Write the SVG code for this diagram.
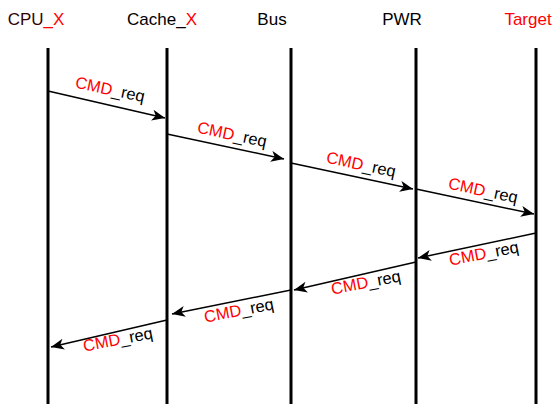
<svg xmlns="http://www.w3.org/2000/svg" width="557" height="416" viewBox="0 0 557 416">
<style>
text{font-family:"Liberation Sans",Arial,Helvetica,sans-serif}
.title{font-size:17px;fill:#000;text-anchor:middle}
.lbl{font-size:16.5px;fill:#000;text-anchor:middle}
.red{fill:#ff0000}
.life{stroke:#000;stroke-width:3}
.msg{stroke:#000;stroke-width:1.5;fill:none;marker-end:url(#arr)}
</style>
<defs>
<marker id="arr" markerUnits="userSpaceOnUse" markerWidth="14" markerHeight="12" refX="13" refY="5.5" orient="auto">
<path d="M0,0 L13,5.5 L0,11 L3.5,5.5 z" fill="#000"/>
</marker>
</defs>
<rect width="557" height="416" fill="#fff"/>
<g id="cpu">
<text class="title" x="36" y="25"><tspan fill="#330000">CPU</tspan><tspan class="red">_X</tspan></text>
<line class="life" x1="48" y1="48" x2="48" y2="404"/>
</g>
<g id="cache">
<text class="title" x="162" y="25">Cache_<tspan class="red">X</tspan></text>
<line class="life" x1="167" y1="48" x2="167" y2="404"/>
</g>
<g id="bus">
<text class="title" x="272" y="25">Bus</text>
<line class="life" x1="291" y1="48" x2="291" y2="404"/>
</g>
<g id="pwr">
<text class="title" x="402" y="25">PWR</text>
<line class="life" x1="416" y1="48" x2="416" y2="404"/>
</g>
<g id="target">
<text class="title red" x="528" y="25">Target</text>
<line class="life" x1="536" y1="48" x2="536" y2="404"/>
</g>
<g id="connectors">
<line class="msg" x1="48" y1="91" x2="165" y2="118"/>
<line class="msg" x1="167" y1="134" x2="284" y2="159"/>
<line class="msg" x1="291" y1="163" x2="413" y2="189"/>
<line class="msg" x1="416" y1="189" x2="534" y2="214"/>
<line class="msg" x1="536" y1="233" x2="418" y2="258"/>
<line class="msg" x1="416" y1="262" x2="294" y2="290"/>
<line class="msg" x1="291" y1="290" x2="172" y2="314"/>
<line class="msg" x1="167" y1="320" x2="51" y2="347"/>
<text class="lbl" transform="translate(110,90) rotate(12)" y="5"><tspan class="red">CMD</tspan>_req</text>
<text class="lbl" transform="translate(232,135) rotate(12)" y="5"><tspan class="red">CMD</tspan>_req</text>
<text class="lbl" transform="translate(361,165) rotate(12)" y="5"><tspan class="red">CMD</tspan>_req</text>
<text class="lbl" transform="translate(483,191) rotate(12)" y="5"><tspan class="red">CMD</tspan>_req</text>
<text class="lbl" transform="translate(484,254) rotate(-11)" y="5"><tspan class="red">CMD</tspan>_req</text>
<text class="lbl" transform="translate(366,283) rotate(-11)" y="5"><tspan class="red">CMD</tspan>_req</text>
<text class="lbl" transform="translate(239,311) rotate(-11)" y="5"><tspan class="red">CMD</tspan>_req</text>
<text class="lbl" transform="translate(118,340) rotate(-11)" y="5"><tspan class="red">CMD</tspan>_req</text>
</g>
</svg>
